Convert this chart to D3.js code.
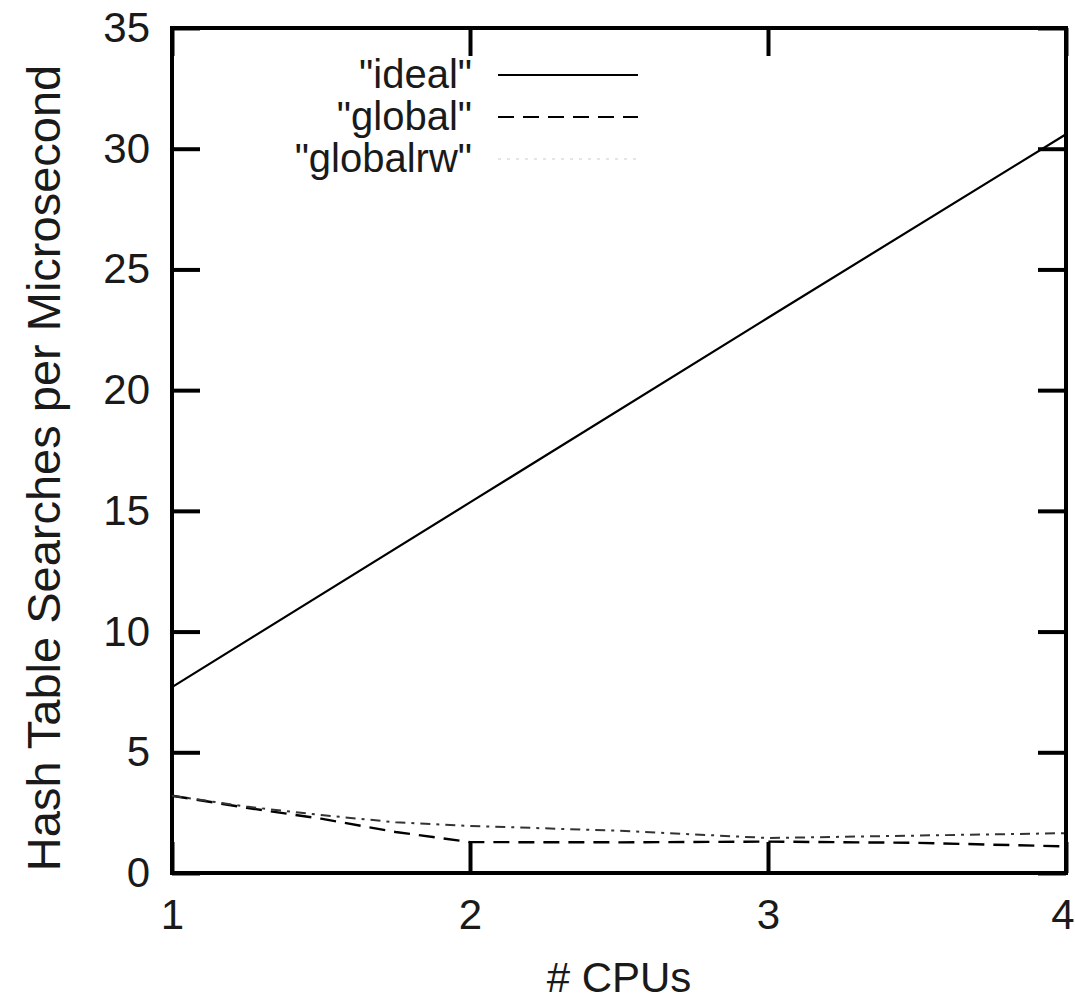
<!DOCTYPE html>
<html lang="en">
<head>
<meta charset="utf-8">
<title>Hash Table Searches per Microsecond</title>
<style>
  body { margin: 0; background: #fff; }
  text { font-family: "Liberation Sans", Arial, sans-serif; fill: #1a1a1a; }
  .axis .domain { display: none; }
  .axis line { stroke: #000; stroke-width: 4px; }
  .axis text { font-size: 42px; }
</style>
<script src="https://d3js.org/d3.v7.min.js"></script>
</head>
<body>
<svg width="1075" height="1000"></svg>
<script>
  // values
  var cpuTicks = [1, 2, 3, 4];
  var yTicks = [0, 5, 10, 15, 20, 25, 30, 35];

  var idealX = [1, 2, 3, 4];
  var idealY = [7.7, 15.35, 23.0, 30.6];

  var globalX = [1, 1.25, 1.5, 1.75, 2, 2.5, 3, 3.5, 4];
  var globalY = [3.2, 2.7, 2.25, 1.7, 1.28, 1.27, 1.3, 1.25, 1.1];

  var globalrwX = [1, 1.25, 1.5, 1.75, 2, 2.5, 3, 3.5, 4];
  var globalrwY = [3.2, 2.75, 2.4, 2.1, 1.95, 1.75, 1.45, 1.55, 1.65];

  var seriesNames = ['"ideal"', '"global"', '"globalrw"'];

  var svg = d3.select("svg");
  var plotL = 172, plotR = 1066, plotT = 28, plotB = 873;

  var x = d3.scaleLinear().domain([1, 4]).range([plotL, plotR]);
  var y = d3.scaleLinear().domain([0, 35]).range([plotB, plotT]);

  // axes, ticks pointing inwards
  svg.append("g")
    .attr("class", "axis")
    .attr("transform", "translate(" + plotL + ",0)")
    .call(d3.axisLeft(y).tickValues(yTicks).tickSize(-28).tickPadding(22).tickFormat(d3.format("d")));

  svg.append("g")
    .attr("class", "axis")
    .attr("transform", "translate(" + plotR + ",0)")
    .call(d3.axisRight(y).tickValues(yTicks).tickSize(-28).tickFormat(""));

  var xAxis = svg.append("g")
    .attr("class", "axis")
    .attr("transform", "translate(0," + plotB + ")")
    .call(d3.axisBottom(x).tickValues(cpuTicks).tickSize(-31).tickPadding(26).tickFormat(d3.format("d")));

  // last label sits against the page edge
  xAxis.selectAll(".tick text")
    .filter(function(d) { return d === 4; })
    .attr("text-anchor", "end")
    .attr("dx", 8);

  svg.append("g")
    .attr("class", "axis")
    .attr("transform", "translate(0," + plotT + ")")
    .call(d3.axisTop(x).tickValues(cpuTicks).tickSize(-28).tickFormat(""));

  // frame
  svg.append("rect")
    .attr("x", plotL)
    .attr("y", plotT)
    .attr("width", plotR - plotL)
    .attr("height", plotB - plotT)
    .attr("fill", "none")
    .attr("stroke", "#000")
    .attr("stroke-width", 4);

  // axis titles
  svg.append("text")
    .attr("x", 619)
    .attr("y", 992)
    .attr("text-anchor", "middle")
    .attr("font-size", 42)
    .text("# CPUs");

  svg.append("text")
    .attr("transform", "translate(60,468) rotate(-90)")
    .attr("text-anchor", "middle")
    .attr("font-size", 47)
    .text("Hash Table Searches per Microsecond");

  var line = d3.line()
    .x(function(d) { return x(d[0]); })
    .y(function(d) { return y(d[1]); });

  var series = [
    { pts: d3.zip(idealX, idealY), dash: null, color: "#000", width: 2.2 },
    { pts: d3.zip(globalX, globalY), dash: "16,9", color: "#000", width: 2.4 },
    { pts: d3.zip(globalrwX, globalrwY), dash: "10,6,3,6", color: "#333", width: 2 }
  ];

  svg.append("g")
    .selectAll("path")
    .data(series)
    .enter()
    .append("path")
    .attr("d", function(d) { return line(d.pts); })
    .attr("fill", "none")
    .attr("stroke", function(d) { return d.color; })
    .attr("stroke-width", function(d) { return d.width; })
    .attr("stroke-dasharray", function(d) { return d.dash; });

  // key
  var key = svg.append("g");
  seriesNames.forEach(function(name, i) {
    var ky = 75 + i * 42;
    key.append("text")
      .attr("x", 472)
      .attr("y", ky + 13)
      .attr("text-anchor", "end")
      .attr("font-size", 40)
      .text(name);
    key.append("line")
      .attr("x1", 498)
      .attr("x2", 638)
      .attr("y1", ky)
      .attr("y2", ky)
      .attr("stroke", i < 2 ? "#000" : "#ddd")
      .attr("stroke-width", i < 2 ? 2.2 : 1.5)
      .attr("stroke-dasharray", i < 2 ? series[i].dash : "3,6");
  });
</script>
</body>
</html>
